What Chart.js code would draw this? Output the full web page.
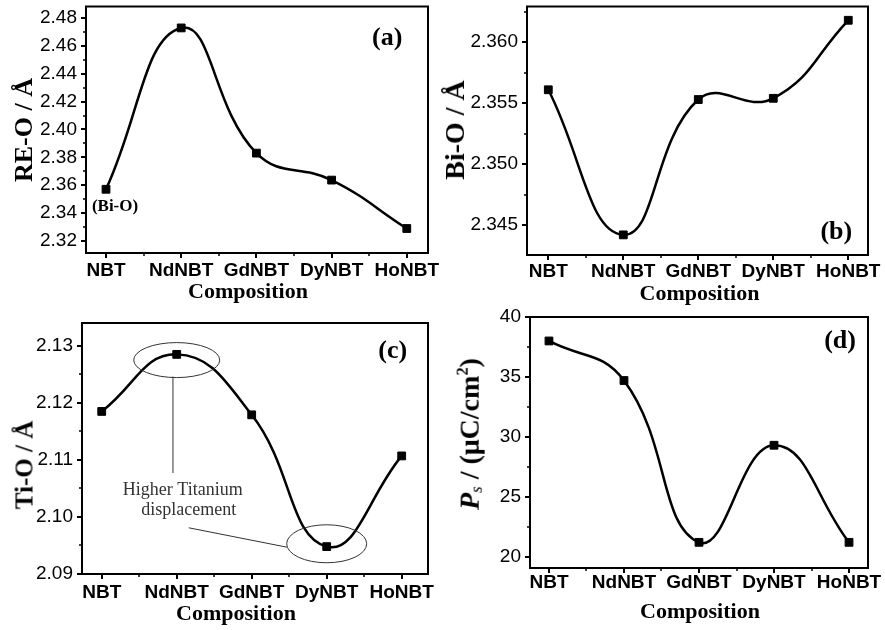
<!DOCTYPE html>
<html>
<head>
<meta charset="utf-8">
<script src="https://cdn.jsdelivr.net/npm/chart.js@4.4.1/dist/chart.umd.min.js"></script>
<style>
  body { margin: 0; background: #fff; }
  #wrap { position: relative; width: 885px; height: 630px; overflow: hidden; }
  #wrap canvas { position: absolute; }
  .ytitle {
    position: absolute; white-space: nowrap; line-height: 1;
    font-family: 'Liberation Serif', 'Times New Roman', serif; font-weight: bold; color: #000;
    transform: translate(-50%, -50%) rotate(-90deg);
  }
  .ytitle sub { font-size: 0.6em; font-weight: normal; font-style: italic; vertical-align: -0.15em; }
  .ytitle sup { font-size: 0.58em; vertical-align: 0.7em; }
</style>
</head>
<body>
<div id="wrap"></div>
<script>
// --- data ---
const compositions = ['NBT', 'NdNBT', 'GdNBT', 'DyNBT', 'HoNBT'];

const reO = [2.357, 2.473, 2.383, 2.3636, 2.3288];
const biO = [2.3561, 2.3442, 2.3553, 2.3554, 2.3618];
const tiO = [2.1185, 2.1285, 2.1179, 2.0948, 2.1107];
const ps  = [38.0, 34.7, 21.2, 29.3, 21.2];

const reOTicks = [2.32, 2.34, 2.36, 2.38, 2.40, 2.42, 2.44, 2.46, 2.48];
const biOTicks = [2.345, 2.350, 2.355, 2.360];
const tiOTicks = [2.09, 2.10, 2.11, 2.12, 2.13];
const psTicks  = [20, 25, 30, 35, 40];

const SANS = "'Liberation Sans', Arial, sans-serif";
const SERIF = "'Liberation Serif', 'Times New Roman', serif";

// half-way ticks between the labelled ones
function minorsOf(ticks, min, max) {
    const half = (ticks[1] - ticks[0]) / 2;
    return [ticks[0] - half, ...ticks.map(v => v + half)].filter(v => v > min && v < max);
}

// frame, minor ticks, x title and notes
const panelDecor = {
    id: 'panelDecor',
    afterDraw(chart, args, o) {
        const { ctx, chartArea: a, scales: { x, y } } = chart;
        ctx.save();
        ctx.strokeStyle = '#000';
        ctx.lineWidth = 2;
        ctx.strokeRect(a.left, a.top, a.right - a.left, a.bottom - a.top);

        ctx.lineWidth = 1.5;
        ctx.beginPath();
        minorsOf(o.yTicks, y.min, y.max).forEach(v => {
            const py = Math.round(y.getPixelForValue(v));
            ctx.moveTo(a.left - 3, py);
            ctx.lineTo(a.left, py);
        });
        minorsOf(compositions.map((c, i) => i), x.min, x.max).forEach(v => {
            const px = Math.round(x.getPixelForValue(v));
            ctx.moveTo(px, a.bottom);
            ctx.lineTo(px, a.bottom + 3);
        });
        ctx.stroke();

        ctx.fillStyle = '#000';
        ctx.font = 'bold 22px ' + SERIF;
        ctx.textAlign = 'center';
        ctx.textBaseline = 'alphabetic';
        ctx.fillText('Composition', (a.left + a.right) / 2 + o.xTitle.dx, a.bottom + o.xTitle.dy);

        // annotation ellipses and leader lines
        ctx.strokeStyle = '#333';
        ctx.lineWidth = 1;
        (o.ellipses || []).forEach(e => {
            ctx.beginPath();
            ctx.ellipse(x.getPixelForValue(e.x), y.getPixelForValue(e.y), e.rx, e.ry, 0, 0, Math.PI * 2);
            ctx.stroke();
        });
        (o.lines || []).forEach(l => {
            ctx.beginPath();
            ctx.moveTo(x.getPixelForValue(l.x1), y.getPixelForValue(l.y1));
            ctx.lineTo(x.getPixelForValue(l.x2), y.getPixelForValue(l.y2));
            ctx.stroke();
        });

        // texts placed in data units
        ctx.textAlign = 'center';
        ctx.textBaseline = 'middle';
        (o.notes || []).forEach(n => {
            ctx.font = n.font;
            ctx.fillStyle = n.color || '#000';
            ctx.fillText(n.text, x.getPixelForValue(n.x), y.getPixelForValue(n.y));
        });
        ctx.restore();
    }
};

const letterFont = 'bold 26px ' + SERIF;

const panels = [
    {
        box: [0, 0, 442, 310], area: [86, 5, 428, 253],
        values: reO, ticks: reOTicks, decimals: 2,
        yMin: 2.3112, yMax: 2.4884, xMin: -0.266, xMax: 4.282, xPad: 1,
        xTitle: { dx: -9, dy: 45 },
        yTitle: { html: 'RE-O / Å', size: 26, cx: 24, cy: 130 },
        notes: [
            { text: '(a)', x: 3.74, y: 2.4657, font: letterFont },
            { text: '(Bi-O)', x: 0.12, y: 2.3443, font: 'bold 17px ' + SERIF }
        ]
    },
    {
        box: [442, 0, 443, 310], area: [527, 5, 868, 255],
        values: biO, ticks: biOTicks, decimals: 3,
        yMin: 2.34255, yMax: 2.36293, xMin: -0.284, xMax: 4.263, xPad: 0,
        xTitle: { dx: 2, dy: 45 },
        yTitle: { html: 'Bi-O / Å', size: 28, cx: 455, cy: 130 },
        notes: [{ text: '(b)', x: 3.84, y: 2.3444, font: letterFont }]
    },
    {
        box: [0, 300, 442, 330], area: [82, 323, 428, 574],
        values: tiO, ticks: tiOTicks, decimals: 2,
        yMin: 2.09, yMax: 2.134, xMin: -0.263, xMax: 4.351, xPad: 2,
        xTitle: { dx: -19, dy: 46 },
        yTitle: { html: 'Ti-O / Å', size: 25, cx: 24, cy: 465 },
        ellipses: [
            { x: 1.0, y: 2.1275, rx: 43, ry: 17.5 },
            { x: 3.0, y: 2.0953, rx: 40, ry: 19 }
        ],
        lines: [
            { x1: 0.95, y1: 2.1246, x2: 0.95, y2: 2.1077 },
            { x1: 1.16, y1: 2.0981, x2: 2.47, y2: 2.0947 }
        ],
        notes: [
            { text: '(c)', x: 3.88, y: 2.1291, font: letterFont },
            { text: 'Higher Titanium', x: 1.08, y: 2.1047, font: '18px ' + SERIF, color: '#333' },
            { text: 'displacement', x: 1.16, y: 2.1012, font: '18px ' + SERIF, color: '#333' }
        ]
    },
    {
        box: [442, 300, 443, 330], area: [530, 317, 868, 568],
        values: ps, ticks: psTicks, decimals: 0,
        yMin: 19.06, yMax: 40, xMin: -0.253, xMax: 4.253, xPad: -2,
        xTitle: { dx: 1, dy: 50 },
        yTitle: { html: '<i>P</i><sub>s</sub> / (μC/cm<sup>2</sup>)', size: 28, cx: 470, cy: 434 },
        notes: [{ text: '(d)', x: 3.88, y: 38.0, font: letterFont }]
    }
];

const wrap = document.getElementById('wrap');

panels.forEach(p => {
    const [bx, by, bw, bh] = p.box;
    const left = p.area[0] - bx, top = p.area[1] - by;
    const right = p.area[2] - bx, bottom = p.area[3] - by;

    const canvas = document.createElement('canvas');
    canvas.width = bw;
    canvas.height = bh;
    canvas.style.left = bx + 'px';
    canvas.style.top = by + 'px';
    wrap.appendChild(canvas);

    // rotated y-axis title
    const t = document.createElement('div');
    t.className = 'ytitle';
    t.innerHTML = p.yTitle.html;
    t.style.fontSize = p.yTitle.size + 'px';
    t.style.left = p.yTitle.cx + 'px';
    t.style.top = p.yTitle.cy + 'px';
    wrap.appendChild(t);

    const axisGrid = { drawOnChartArea: false, tickLength: 5, lineWidth: 2, color: '#000' };
    const axisBorder = { color: '#000', width: 2 };

    new Chart(canvas, {
        type: 'line',
        data: {
            datasets: [{
                data: p.values.map((v, i) => ({ x: i, y: v })),
                borderColor: '#000',
                borderWidth: 2.5,
                tension: 0.45,
                fill: false,
                clip: false,
                pointStyle: 'rect',
                pointRadius: 5.5,
                pointBackgroundColor: '#000',
                pointBorderColor: '#000',
                pointBorderWidth: 1
            }]
        },
        options: {
            responsive: false,
            animation: false,
            events: [],
            layout: { padding: { left: 0, top: top, right: bw - right, bottom: 0 } },
            plugins: {
                legend: { display: false },
                tooltip: { enabled: false },
                panelDecor: {
                    yTicks: p.ticks, xTitle: p.xTitle,
                    ellipses: p.ellipses, lines: p.lines, notes: p.notes
                }
            },
            scales: {
                x: {
                    type: 'linear',
                    min: p.xMin,
                    max: p.xMax,
                    afterBuildTicks: s => { s.ticks = compositions.map((c, i) => ({ value: i })); },
                    afterFit: s => { s.height = bh - bottom; s.paddingLeft = 0; s.paddingRight = 0; },
                    ticks: {
                        callback: v => compositions[v] ?? '',
                        font: { family: SANS, size: 19, weight: 'bold' },
                        color: '#000',
                        padding: p.xPad,
                        maxRotation: 0,
                        autoSkip: false
                    },
                    grid: axisGrid,
                    border: axisBorder
                },
                y: {
                    min: p.yMin,
                    max: p.yMax,
                    afterBuildTicks: s => { s.ticks = p.ticks.map(v => ({ value: v })); },
                    afterFit: s => { s.width = left; s.paddingTop = 0; s.paddingBottom = 0; },
                    ticks: {
                        callback: v => v.toFixed(p.decimals),
                        font: { family: SANS, size: 19 },
                        color: '#000',
                        padding: 4
                    },
                    grid: axisGrid,
                    border: axisBorder
                }
            }
        },
        plugins: [panelDecor]
    });
});
</script>
</body>
</html>
